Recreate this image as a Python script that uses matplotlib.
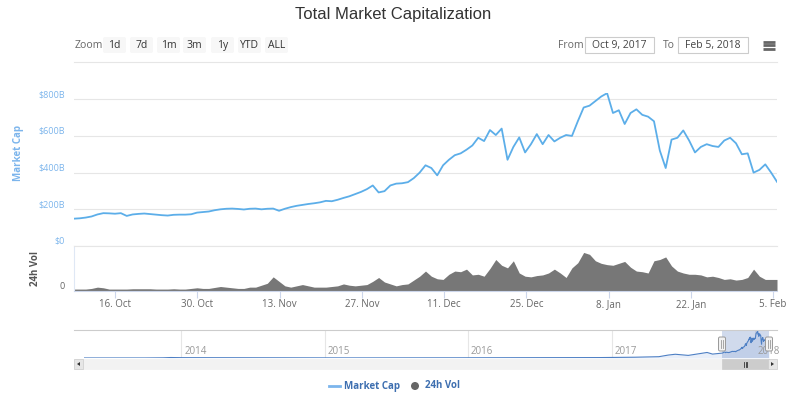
import pandas as pd
import matplotlib
matplotlib.use('Agg')
import matplotlib.pyplot as plt
import matplotlib.dates as mdates
from matplotlib.patches import FancyBboxPatch, Rectangle, Polygon, Circle

plt.rcParams['font.family'] = ['Open Sans', 'DejaVu Sans']

# total market cap, $B (Oct 9 2017 -> Feb 5 2018)
market_cap = [149, 151, 155, 161, 172, 179, 178, 176, 179, 164,
              172, 175, 177, 174, 171, 168, 166, 170, 171, 171,
              173, 182, 185, 188, 195, 200, 203, 204, 202, 199,
              203, 204, 200, 203, 204, 192, 203, 212, 219, 224,
              229, 233, 238, 246, 244, 252, 262, 271, 283, 295,
              310, 330, 292, 299, 330, 340, 342, 348, 370, 400,
              440, 425, 385, 440, 470, 495, 505, 525, 548, 590,
              572, 632, 605, 640, 470, 540, 592, 510, 555, 610,
              555, 605, 570, 590, 605, 600, 680, 755, 765, 790,
              815, 833, 725, 740, 665, 725, 745, 715, 705, 680,
              520, 425, 580, 590, 630, 575, 510, 540, 555, 545,
              540, 575, 590, 560, 500, 505, 400, 415, 445, 400,
              350]
# 24h volume, $B
volume = [3, 3, 3, 4, 6, 5, 3, 3, 3, 3,
          3.5, 3.5, 3.5, 3.5, 3, 3, 3, 3.5, 3, 3,
          4, 5, 4, 4, 5.5, 7, 6, 5, 4, 4,
          6, 6, 9, 12, 22, 15, 8, 6, 8, 10,
          8, 6, 6, 6, 7, 8, 11, 9, 8, 9,
          10, 15, 21, 14, 11, 8, 10, 11, 17, 23,
          31, 23, 19, 18, 26, 31, 30, 34, 25, 26,
          23, 35, 49, 40, 36, 47, 28, 23, 22, 24,
          25, 28, 34, 28, 21, 36, 44, 60, 57, 47,
          43, 41, 40, 43, 46, 37, 31, 30, 28, 47,
          49, 53, 39, 31, 28, 26, 26, 25, 22, 23,
          21, 18, 19, 17, 18, 21, 34, 23, 18, 18,
          18]
dates = pd.date_range('2017-10-09', '2018-02-05 16:00', periods=len(market_cap))

# navigator history before the selected range
nav_dates = ['2013-04-28', '2013-07-01', '2013-10-01', '2013-11-15', '2013-12-05',
             '2014-01-01', '2014-03-01', '2014-06-01', '2014-09-01', '2014-12-01',
             '2015-03-01', '2015-06-01', '2015-09-01', '2015-12-01', '2016-03-01',
             '2016-06-01', '2016-09-01', '2016-12-01', '2017-01-05', '2017-03-01',
             '2017-05-01', '2017-05-25', '2017-06-12', '2017-07-15', '2017-08-15',
             '2017-09-01', '2017-09-15']
nav_caps = [1.5, 1.0, 1.8, 6, 15, 10, 8, 8, 6, 4.5, 3.5, 3.5, 3.5, 6, 7.5,
            11, 11, 13, 17, 24, 40, 90, 115, 80, 140, 170, 120]

tick_dates = ['2017-10-16', '2017-10-30', '2017-11-13', '2017-11-27', '2017-12-11',
              '2017-12-25', '2018-01-08', '2018-01-22', '2018-02-05']
tick_labels = ['16. Oct', '30. Oct', '13. Nov', '27. Nov', '11. Dec',
               '25. Dec', '8. Jan', '22. Jan', '5. Feb']
cap_ticks = [0, 200, 400, 600, 800]
cap_labels = ['$0', '$200B', '$400B', '$600B', '$800B']
years = ['2014', '2015', '2016', '2017', '2018']
zoom_buttons = ['1d', '7d', '1m', '3m', '1y', 'YTD', 'ALL']

W, H = 800, 397
CAP = '#5caee9'
LBL = '#7cb5ec'


def box(l, t, r, b):
    return [l / W, 1 - b / H, (r - l) / W, (b - t) / H]


fig = plt.figure(figsize=(W / 100, H / 100), dpi=100)

# main market cap pane
ax = fig.add_axes(box(74, 93, 777, 246))
ax.plot(dates, market_cap, color=CAP, lw=1.3)
ax.set_xlim(dates[0], dates[-1])
ax.set_ylim(0, 834)
ax.set_yticks(cap_ticks)
ax.set_yticklabels([])
ax.set_xticks([])
ax.tick_params(length=0)
ax.grid(axis='y', color='#e6e6e6', lw=0.8)
ax.set_axisbelow(True)
for s in ax.spines.values():
    s.set_visible(False)
for v, lab in zip(cap_ticks, cap_labels):
    ax.text(-0.013, v, lab, transform=ax.get_yaxis_transform(), ha='right',
            va='bottom', fontsize=6.5, color=LBL)

# volume pane
vx = fig.add_axes(box(74, 246, 777, 291))
vx.fill_between(dates, volume, color='#777777', lw=0)
vx.set_xlim(dates[0], dates[-1])
vx.set_ylim(0, 70)
vx.set_yticks([])
vx.set_xticks(pd.to_datetime(tick_dates))
vx.set_xticklabels(tick_labels)
vx.tick_params(axis='x', length=5, color='#ccd6eb', labelsize=7,
               labelcolor='#666666', pad=0.5)
vx.spines['right'].set_visible(False)
vx.spines['top'].set_color('#e6e6e6')
vx.spines['bottom'].set_color('#ccd6eb')
vx.spines['left'].set_color('#dfe8f5')
for s in vx.spines.values():
    s.set_linewidth(0.8)
vx.text(-0.013, 0, '0', transform=vx.get_yaxis_transform(), ha='right',
        va='bottom', fontsize=6.5, color='#666666')

# navigator
nv = fig.add_axes(box(84, 330, 769, 358))
nav_x = list(pd.to_datetime(nav_dates)) + list(dates)
nav_y = nav_caps + market_cap
nv.fill_between(nav_x, nav_y, color='#e9eff9', lw=0)
nv.plot(nav_x, nav_y, color='#4d7fc4', lw=0.8)
nv.set_xlim(pd.Timestamp('2013-04-28'), dates[-1])
nv.set_ylim(0, 860)
nv.set_yticks([])
nv.set_xticks(pd.to_datetime([y + '-01-01' for y in years]))
nv.set_xticklabels([])
nv.tick_params(length=0)
nv.grid(axis='x', color='#e6e6e6', lw=0.8)
nv.set_axisbelow(True)
for s in nv.spines.values():
    s.set_visible(False)
for y in years:
    nv.annotate(y, (pd.Timestamp(y + '-01-01'), 0.22), xycoords=('data', 'axes fraction'),
                xytext=(2, 0), textcoords='offset points', ha='left', va='center',
                fontsize=7, color='#999999')
nv.axvspan(dates[0], dates[-1], color='#6685c2', alpha=0.3, lw=0)

# overlay for the chart furniture (pixel coordinates)
ov = fig.add_axes([0, 0, 1, 1], zorder=10)
ov.set_xlim(0, W)
ov.set_ylim(H, 0)
ov.axis('off')

ov.text(393, 15, 'Total Market Capitalization', ha='center', va='center',
        fontsize=12, color='#333333', family='Liberation Sans')

ov.text(75, 45, 'Zoom', ha='left', va='center', fontsize=7.5, color='#666666')
bx = [103, 130, 157, 183, 211, 238, 265]
for x0, lab in zip(bx, zoom_buttons):
    ov.add_patch(FancyBboxPatch((x0, 37), 23, 16, boxstyle='round,pad=0,rounding_size=2',
                                fc='#f7f7f7', ec='none'))
    ov.text(x0 + 11.5, 45.5, lab, ha='center', va='center', fontsize=7.5, color='#333333')

ov.text(558, 45, 'From', ha='left', va='center', fontsize=7.5, color='#666666')
ov.text(663, 45, 'To', ha='left', va='center', fontsize=7.5, color='#666666')
for (l, r), d in zip([(585, 654), (678, 748)], [dates[0], pd.Timestamp('2018-02-05')]):
    ov.add_patch(Rectangle((l, 37), r - l, 16, fc='white', ec='#cccccc', lw=0.8))
    ov.text((l + r) / 2, 45.5, f'{d:%b} {d.day}, {d.year}', ha='center', va='center',
            fontsize=7.5, color='#444444')
for yy in [41.5, 45, 48.5]:
    ov.plot([763, 775], [yy, yy], color='#666666', lw=2, solid_capstyle='butt')

ov.plot([74, 777], [62, 62], color='#e6e6e6', lw=0.8)

ov.text(18, 153, 'Market Cap', rotation=90, ha='center', va='center',
        fontsize=7, fontweight='bold', color=LBL)
ov.text(35, 268, '24h Vol', rotation=90, ha='center', va='center',
        fontsize=7, fontweight='bold', color='#555555')

# navigator outline, handles and scrollbar
ov.plot([74, 777], [330, 330], color='#cccccc', lw=0.8)
xl = nv.transData.transform((mdates.date2num(dates[0]), 0))[0] * W / fig.bbox.width
xr = nv.transData.transform((mdates.date2num(dates[-1]), 0))[0] * W / fig.bbox.width
ov.add_patch(Rectangle((74, 359), 703, 10, fc='#f2f2f2', ec='#f2f2f2', lw=0.5))
ov.add_patch(Rectangle((xl, 359), xr - xl, 10, fc='#cccccc', ec='#cccccc', lw=0.5))
for k in (-1.5, 0, 1.5):
    ov.plot([(xl + xr) / 2 + k] * 2, [361.5, 366.5], color='#333333', lw=0.6)
ov.add_patch(Rectangle((74, 359), 9, 10, fc='#e6e6e6', ec='#cccccc', lw=0.5))
ov.add_patch(Rectangle((768, 359), 9, 10, fc='#e6e6e6', ec='#cccccc', lw=0.5))
ov.add_patch(Polygon([[80, 362], [80, 366], [77, 364]], fc='#333333', ec='none'))
ov.add_patch(Polygon([[771, 362], [771, 366], [774, 364]], fc='#333333', ec='none'))
for hx in (xl, xr):
    ov.add_patch(FancyBboxPatch((hx - 3.5, 337), 7, 14, boxstyle='round,pad=0,rounding_size=1.5',
                                fc='#f2f2f2', ec='#999999', lw=0.7))
    for k in (-1, 1):
        ov.plot([hx + k, hx + k], [340, 348], color='#999999', lw=0.6)

# legend
ov.plot([329, 340], [386, 386], color=LBL, lw=2)
ov.text(344, 386, 'Market Cap', ha='left', va='center', fontsize=7,
        fontweight='bold', color='#3e6fb0')
ov.add_patch(Circle((415, 386), 4, fc='#666666', ec='none'))
ov.text(425, 386, '24h Vol', ha='left', va='center', fontsize=7,
        fontweight='bold', color='#3e6fb0')

fig.savefig('out.png', dpi=100)
